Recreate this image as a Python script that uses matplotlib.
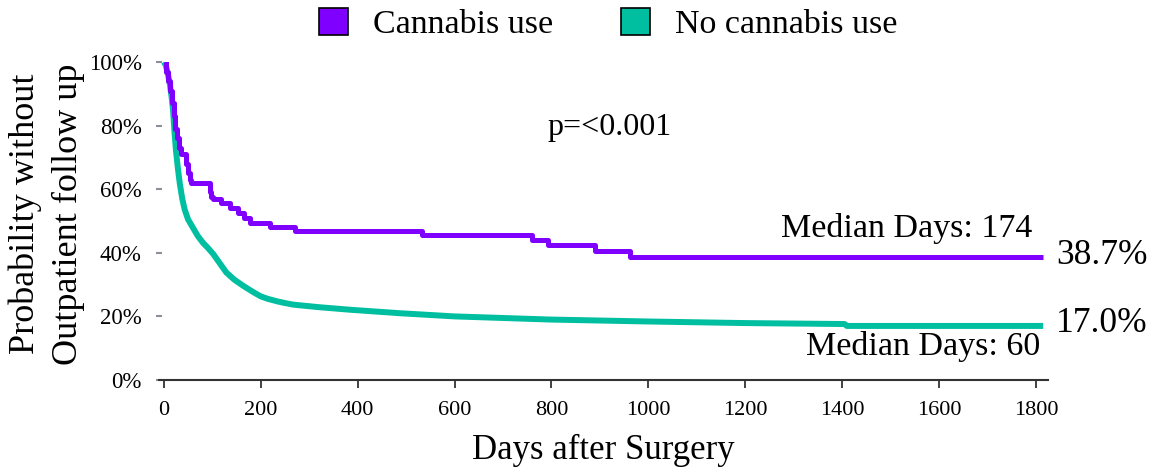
import matplotlib
matplotlib.use("Agg")
import matplotlib.pyplot as plt
from matplotlib.patches import Patch

# ---- data ----
cannabis_days = [0, 4, 8, 12, 16, 20, 24, 28, 32, 36, 43, 46, 50, 54, 57, 95, 98, 101, 119,
                 136, 153, 165, 178, 219, 270, 532, 759, 793, 890, 962, 1815]
cannabis_surv = [100, 97, 94, 91, 87, 83, 79, 76, 73, 71, 71, 68, 65, 63, 62, 59, 57.5, 57,
                 55.8, 54, 52.5, 51, 49.5, 48.2, 46.8, 45.6, 44.0, 42.4, 40.7, 38.7, 38.7]

nocannabis_days = [0, 4, 8, 12, 16, 19, 22, 25, 29, 33, 38, 43, 50, 60, 70, 81, 90, 102, 115,
                   129, 145, 164, 185, 200, 215, 235, 250, 267, 320, 384, 487, 600, 800, 1000,
                   1200, 1405, 1410, 1815]
nocannabis_surv = [100, 99, 96.5, 93.4, 89, 84.8, 78, 72.2, 66.5, 61.7, 57, 53.6, 50.5, 47.9,
                   45.3, 43.1, 41.7, 39.6, 36.8, 33.8, 31.6, 29.6, 27.6, 26.3, 25.5, 24.7, 24.2,
                   23.7, 22.9, 22.1, 21.0, 20.0, 19.0, 18.4, 17.9, 17.6, 17.0, 17.0]

series_labels = ["Cannabis use", "No cannabis use"]
series_colors = ["#8000FF", "#00BFA0"]
x_ticks = [0, 200, 400, 600, 800, 1000, 1200, 1400, 1600, 1800]
y_ticks = [0, 20, 40, 60, 80, 100]
y_ticklabels = ["0%", "20%", "40%", "60%", "80%", "100%"]
medians = ["Median Days: 174", "Median Days: 60"]
end_labels = ["38.7%", "17.0%"]
p_text = "p=<0.001"

FONT = "Liberation Serif"
plt.rcParams["font.family"] = [FONT, "DejaVu Serif"]

fig = plt.figure(figsize=(11.54, 4.71), dpi=100)
ax = fig.add_axes([159 / 1154, 1 - 380 / 471, (1048 - 159) / 1154, (380 - 62) / 471])

ax.plot(nocannabis_days, nocannabis_surv, color=series_colors[1], lw=4.3,
        solid_capstyle="butt", solid_joinstyle="round", zorder=3)
ax.plot(cannabis_days, cannabis_surv, color=series_colors[0], lw=3.6,
        drawstyle="steps-post", solid_capstyle="butt", zorder=4)

ax.set_xlim(-10, 1825)
ax.set_ylim(0, 100)
ax.set_xticks(x_ticks)
ax.set_xticklabels([str(v) for v in x_ticks], fontsize=16)
ax.set_yticks(y_ticks)
ax.set_yticklabels(y_ticklabels, fontsize=16.5)

for s in ["top", "right", "left"]:
    ax.spines[s].set_visible(False)
ax.spines["bottom"].set_color("#333333")
ax.spines["bottom"].set_linewidth(1.5)
ax.tick_params(axis="x", direction="out", length=6, width=1.3, color="#333333", pad=9)
ax.tick_params(axis="y", direction="inout", length=5, width=1.5, color="#8a8f9a", pad=10)

ax.set_xlabel("Days after Surgery", fontsize=25, labelpad=10)
fig.text(25 / 1154, 1 - 214 / 471, "Probability without", rotation=90, fontsize=26,
         ha="center", va="center")
fig.text(68 / 1154, 1 - 214 / 471, "Outpatient follow up", rotation=90, fontsize=26,
         ha="center", va="center")

fig.text(610 / 1154, 1 - 127 / 471, p_text, fontsize=23, ha="center", va="center")
fig.text(1032 / 1154, 1 - 228 / 471, medians[0], fontsize=24.5, ha="right", va="center")
fig.text(1040 / 1154, 1 - 347 / 471, medians[1], fontsize=24.5, ha="right", va="center")
fig.text(1056 / 1154, 1 - 255 / 471, end_labels[0], fontsize=25.5, ha="left", va="center")
fig.text(1056 / 1154, 1 - 323 / 471, end_labels[1], fontsize=25.5, ha="left", va="center")

handles = [Patch(facecolor=c, edgecolor="black", linewidth=1.2) for c in series_colors]
fig.legend(handles, series_labels, loc="center", bbox_to_anchor=(608 / 1154, 1 - 24 / 471),
           ncol=2, frameon=False, fontsize=24.5, handlelength=0.85, handleheight=0.85,
           handletextpad=0.73, columnspacing=2.0, borderpad=0.1)

fig.savefig("out.png", dpi=100)
